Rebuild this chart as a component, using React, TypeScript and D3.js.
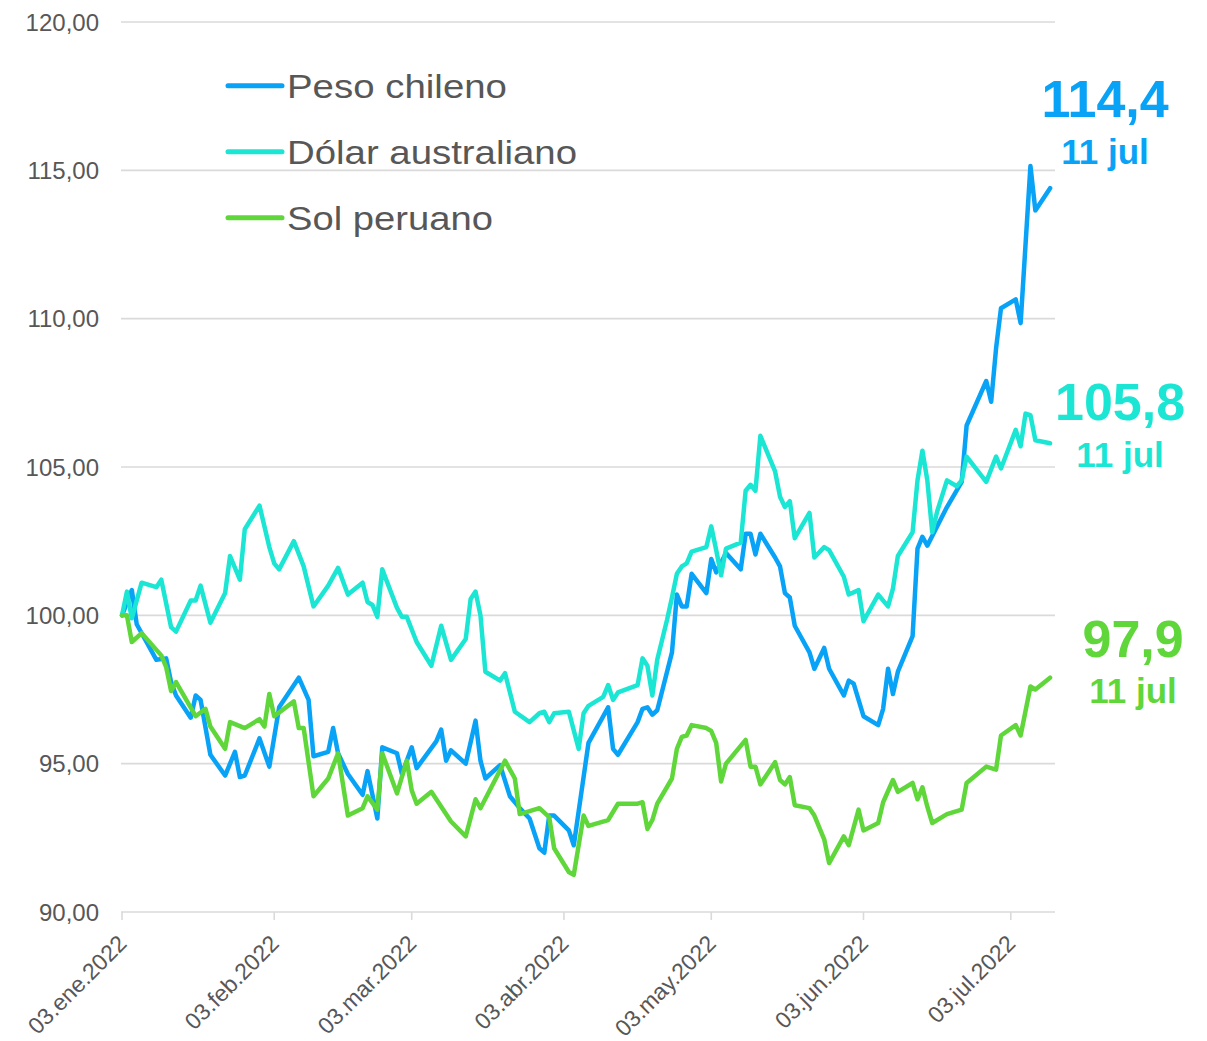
import React from "react";
import * as d3 from "d3";

// ---------- DATA ----------
// Each point: [days since 03.ene.2022, index value]
const pesoChileno: [number, number][] = [
  [0, 100.0], [2, 100.85], [3, 99.7], [7, 98.5], [9, 98.55], [10, 97.75], [11, 97.3],
  [14, 96.55], [15, 97.3], [16, 97.15], [18, 95.3], [21, 94.6], [23, 95.4], [24, 94.55],
  [25, 94.6], [28, 95.85], [30, 94.9], [32, 96.9], [36, 97.9], [38, 97.15], [39, 95.25],
  [42, 95.4], [43, 96.2], [44, 95.35], [46, 94.65], [49, 93.95], [50, 94.75], [52, 93.15],
  [53, 95.55], [56, 95.35], [57, 94.65], [59, 95.55], [60, 94.85], [64, 95.75], [65, 96.15],
  [66, 95.1], [67, 95.45], [70, 95.0], [72, 96.45], [73, 95.1], [74, 94.5], [77, 94.95],
  [79, 93.9], [81, 93.5], [83, 93.15], [85, 92.15], [86, 92.0], [87, 93.25], [88, 93.25],
  [91, 92.75], [92, 92.25], [95, 95.7], [99, 96.9], [100, 95.5], [101, 95.3], [105, 96.4],
  [106, 96.85], [107, 96.9], [108, 96.65], [109, 96.8], [112, 98.75], [113, 100.7],
  [114, 100.3], [115, 100.3], [116, 101.4], [119, 100.75], [120, 101.9], [121, 101.45],
  [123, 102.1], [126, 101.55], [127, 102.75], [128, 102.75], [129, 102.05], [130, 102.75],
  [133, 101.95], [134, 101.65], [135, 100.75], [136, 100.6], [137, 99.65], [140, 98.75],
  [141, 98.2], [143, 98.9], [144, 98.2], [147, 97.3], [148, 97.8], [149, 97.7], [151, 96.6],
  [154, 96.3], [155, 96.85], [156, 98.2], [157, 97.35], [158, 98.1], [161, 99.3],
  [162, 102.25], [163, 102.65], [164, 102.35], [168, 103.65], [171, 104.5], [172, 106.4],
  [176, 107.9], [177, 107.2], [178, 109.0], [179, 110.35], [182, 110.65], [183, 109.85],
  [185, 115.15], [186, 113.65], [189, 114.4],
];

const dolarAustraliano: [number, number][] = [
  [0, 100.0], [1, 100.8], [2, 99.9], [4, 101.1], [7, 100.95], [8, 101.2], [10, 99.6],
  [11, 99.45], [14, 100.5], [15, 100.5], [16, 101.0], [18, 99.75], [21, 100.75], [22, 102.0],
  [24, 101.2], [25, 102.9], [28, 103.7], [30, 102.3], [31, 101.75], [32, 101.55], [35, 102.5],
  [37, 101.65], [39, 100.3], [42, 101.0], [44, 101.6], [46, 100.7], [49, 101.1], [50, 100.45],
  [51, 100.35], [52, 99.95], [53, 101.55], [56, 100.25], [57, 99.95], [58, 99.95], [60, 99.1],
  [63, 98.3], [65, 99.65], [67, 98.5], [70, 99.2], [71, 100.55], [72, 100.8], [73, 100.0],
  [74, 98.1], [77, 97.8], [78, 98.05], [80, 96.75], [83, 96.4], [85, 96.7], [86, 96.75],
  [87, 96.4], [88, 96.7], [91, 96.75], [93, 95.5], [94, 96.7], [95, 96.95], [98, 97.25],
  [99, 97.65], [100, 97.15], [101, 97.4], [105, 97.65], [106, 98.55], [107, 98.3],
  [108, 97.3], [109, 98.5], [111, 99.85], [112, 100.6], [113, 101.4], [114, 101.65],
  [115, 101.75], [116, 102.15], [119, 102.3], [120, 103.0], [121, 102.2], [122, 101.35],
  [123, 102.25], [126, 102.45], [127, 104.2], [128, 104.4], [129, 104.2], [130, 106.05],
  [133, 104.85], [134, 104.0], [135, 103.65], [136, 103.85], [137, 102.6], [140, 103.45],
  [141, 101.95], [143, 102.3], [144, 102.2], [147, 101.3], [148, 100.7], [150, 100.85],
  [151, 99.8], [154, 100.7], [156, 100.3], [157, 100.9], [158, 102.0], [161, 102.8],
  [162, 104.55], [163, 105.55], [164, 104.55], [165, 102.8], [166, 103.5], [168, 104.55],
  [170, 104.35], [171, 104.55], [172, 105.35], [176, 104.5], [178, 105.35], [179, 104.95],
  [182, 106.25], [183, 105.7], [184, 106.8], [185, 106.75], [186, 105.9], [189, 105.8],
];

const solPeruano: [number, number][] = [
  [0, 100.0], [1, 100.0], [2, 99.1], [4, 99.4], [8, 98.65], [9, 98.25], [10, 97.45],
  [11, 97.75], [15, 96.6], [17, 96.85], [18, 96.25], [21, 95.5], [22, 96.4], [25, 96.2],
  [28, 96.5], [29, 96.25], [30, 97.35], [31, 96.6], [35, 97.1], [36, 96.2], [37, 96.2],
  [39, 93.9], [42, 94.5], [44, 95.35], [46, 93.25], [49, 93.5], [50, 93.9], [52, 93.45],
  [53, 95.35], [56, 94.0], [58, 95.1], [59, 94.1], [60, 93.65], [63, 94.05], [67, 93.05],
  [70, 92.55], [72, 93.8], [73, 93.5], [78, 95.1], [80, 94.5], [81, 93.3], [85, 93.5],
  [87, 93.2], [88, 92.15], [91, 91.35], [92, 91.25], [94, 93.25], [95, 92.9], [99, 93.1],
  [101, 93.65], [105, 93.65], [106, 93.7], [107, 92.8], [108, 93.1], [109, 93.65],
  [112, 94.5], [113, 95.5], [114, 95.9], [115, 95.95], [116, 96.3], [119, 96.2], [120, 96.1],
  [121, 95.7], [122, 94.4], [123, 95.0], [127, 95.8], [128, 94.9], [129, 94.9], [130, 94.3],
  [133, 95.05], [134, 94.45], [135, 94.3], [136, 94.55], [137, 93.6], [140, 93.5],
  [141, 93.25], [143, 92.45], [144, 91.65], [147, 92.55], [148, 92.25], [150, 93.45],
  [151, 92.75], [154, 93.0], [155, 93.7], [157, 94.45], [158, 94.05], [161, 94.35],
  [162, 93.8], [163, 94.2], [164, 93.55], [165, 93.0], [168, 93.3], [171, 93.45],
  [172, 94.35], [176, 94.9], [178, 94.8], [179, 95.95], [182, 96.3], [183, 95.95],
  [185, 97.6], [186, 97.5], [189, 97.9],
];

const seriesNames = ["Peso chileno", "Dólar australiano", "Sol peruano"];
const seriesColors = ["#08a3f7", "#1be6d3", "#5fd73a"];
const yTicks = [90, 95, 100, 105, 110, 115, 120];
const monthAbbr = ["ene", "feb", "mar", "abr", "may", "jun", "jul"];
const lastDateLabel = "11 jul";

// layout only: legend text widths and end-label offsets from last point
const legendTextWidths = [220, 290, 206];
const labelOffsets = [
  { dx: 55, dy: -71 },
  { dx: 70, dy: -23 },
  { dx: 83, dy: -21 },
];

const W = 1207;
const H = 1041;
const START = new Date(2022, 0, 3);
const END = new Date(2022, 6, 12);

const locale = d3.formatLocale({
  decimal: ",",
  thousands: ".",
  grouping: [3],
  currency: ["", "€"],
});
const fmt2 = locale.format(".2f");
const fmt1 = locale.format(".1f");

const FONT = "'Liberation Sans', Arial, Helvetica, sans-serif";

export default function App() {
  const x = d3.scaleTime().domain([START, END]).range([122, 1055]);
  const y = d3.scaleLinear().domain([90, 120]).range([912, 22]);

  const allSeries = [pesoChileno, dolarAustraliano, solPeruano].map((s) =>
    s.map(([d, v]) => ({ date: d3.timeDay.offset(START, d), value: v }))
  );

  const line = d3
    .line<{ date: Date; value: number }>()
    .x((d) => x(d.date))
    .y((d) => y(d.value));

  const xTicks = monthAbbr.map((m, i) => ({
    date: new Date(2022, i, 3),
    label: `03.${m}.2022`,
  }));

  const gridColor = "#dadada";
  const textColor = "#575757";

  return (
    <svg
      width={W}
      height={H}
      style={{ position: "absolute", left: 0, top: 0, background: "#fff" }}
      fontFamily={FONT}
    >
      {/* gridlines + y labels */}
      {yTicks.map((t) => (
        <g key={t}>
          <line x1={121} x2={1055} y1={y(t)} y2={y(t)} stroke={gridColor} strokeWidth={1.6} />
          <text
            x={99}
            y={y(t)}
            dy="0.36em"
            textAnchor="end"
            fontSize={24}
            fill={textColor}
          >
            {fmt2(t)}
          </text>
        </g>
      ))}

      {/* x ticks & labels */}
      {xTicks.map((t) => {
        const px = x(t.date);
        return (
          <g key={t.label}>
            <line x1={px} x2={px} y1={912} y2={920} stroke={gridColor} strokeWidth={1.6} />
            <text
              transform={`translate(${px + 6},${912 + 33}) rotate(-45)`}
              textAnchor="end"
              fontSize={23}
              fill={textColor}
            >
              {t.label}
            </text>
          </g>
        );
      })}

      {/* lines */}
      {allSeries.map((s, i) => (
        <path
          key={seriesNames[i]}
          d={line(s) || ""}
          fill="none"
          stroke={seriesColors[i]}
          strokeWidth={4.5}
          strokeLinejoin="round"
          strokeLinecap="round"
        />
      ))}

      {/* legend */}
      {seriesNames.map((n, i) => {
        const ly = 85.7 + i * 66;
        return (
          <g key={n}>
            <line
              x1={228}
              x2={282}
              y1={ly}
              y2={ly}
              stroke={seriesColors[i]}
              strokeWidth={5}
              strokeLinecap="round"
            />
            <text
              x={287}
              y={ly + 12.5}
              fontSize={32.5}
              fill={textColor}
              textLength={legendTextWidths[i]}
              lengthAdjust="spacingAndGlyphs"
            >
              {n}
            </text>
          </g>
        );
      })}

      {/* end labels */}
      {allSeries.map((s, i) => {
        const last = s[s.length - 1];
        const cx = x(last.date) + labelOffsets[i].dx;
        const by = y(last.value) + labelOffsets[i].dy;
        return (
          <g key={"lbl" + i} fill={seriesColors[i]} fontWeight="bold" textAnchor="middle">
            <text x={cx} y={by} fontSize={52}>
              {fmt1(last.value)}
            </text>
            <text x={cx} y={by + 46.6} fontSize={35}>
              {lastDateLabel}
            </text>
          </g>
        );
      })}
    </svg>
  );
}
